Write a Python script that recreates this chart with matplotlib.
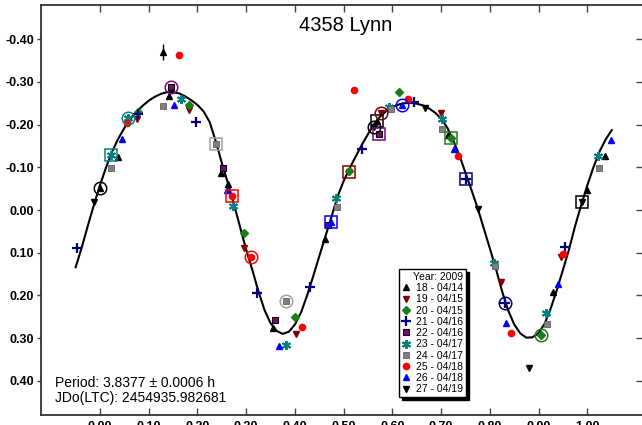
import matplotlib.pyplot as plt
from matplotlib.lines import Line2D

plt.rcParams['font.family'] = ['Liberation Sans', 'DejaVu Sans']

# Fourier fit curve, sampled every 0.0125 in phase
curve_phase = [-0.0500, -0.0375, -0.0250, -0.0125, 0.0000, 0.0125, 0.0250, 0.0375,
               0.0500, 0.0625, 0.0750, 0.0875, 0.1000, 0.1125, 0.1250, 0.1375,
               0.1500, 0.1625, 0.1750, 0.1875, 0.2000, 0.2125, 0.2250, 0.2375,
               0.2500, 0.2625, 0.2750, 0.2875, 0.3000, 0.3125, 0.3250, 0.3375,
               0.3500, 0.3625, 0.3750, 0.3875, 0.4000, 0.4125, 0.4250, 0.4375,
               0.4500, 0.4625, 0.4750, 0.4875, 0.5000, 0.5125, 0.5250, 0.5375,
               0.5500, 0.5625, 0.5750, 0.5875, 0.6000, 0.6125, 0.6250, 0.6375,
               0.6500, 0.6625, 0.6750, 0.6875, 0.7000, 0.7125, 0.7250, 0.7375,
               0.7500, 0.7625, 0.7750, 0.7875, 0.8000, 0.8125, 0.8250, 0.8375,
               0.8500, 0.8625, 0.8750, 0.8875, 0.9000, 0.9125, 0.9250, 0.9375,
               0.9500, 0.9625, 0.9750, 0.9875, 1.0000, 1.0125, 1.0250, 1.0375,
               1.0500]
curve_mag = [0.134, 0.088, 0.037, -0.012, -0.058, -0.100, -0.137, -0.167,
             -0.192, -0.213, -0.230, -0.244, -0.256, -0.265, -0.272, -0.276,
             -0.276, -0.273, -0.266, -0.257, -0.246, -0.231, -0.206, -0.161,
             -0.110, -0.063, -0.013, 0.040, 0.093, 0.140, 0.190, 0.234,
             0.265, 0.283, 0.290, 0.285, 0.268, 0.240, 0.200, 0.155,
             0.108, 0.062, 0.016, -0.032, -0.068, -0.098, -0.126, -0.153,
             -0.178, -0.201, -0.219, -0.232, -0.241, -0.247, -0.250, -0.251,
             -0.249, -0.245, -0.238, -0.228, -0.214, -0.193, -0.163, -0.128,
             -0.087, -0.046, -0.004, 0.043, 0.090, 0.138, 0.190, 0.235,
             0.268, 0.289, 0.299, 0.298, 0.288, 0.266, 0.230, 0.187,
             0.140, 0.092, 0.037, -0.012, -0.058, -0.100, -0.137, -0.165,
             -0.187]

# observing sessions
session_labels = ['18 - 04/14', '19 - 04/15', '20 - 04/15', '21 - 04/16', '22 - 04/16',
                  '23 - 04/17', '24 - 04/17', '25 - 04/18', '26 - 04/18', '27 - 04/19']

phase_18 = [0.130, 0.142, 0.036, -0.001, 0.248, 0.263, 0.356, 0.462, 0.569, 0.715, 0.930, 1.000, 1.036]
mag_18 = [-0.370, -0.268, -0.125, -0.051, -0.086, -0.062, 0.277, 0.069, -0.208, -0.175, 0.191, -0.047, -0.127]
phase_19 = [0.075, 0.183, 0.295, 0.402, 0.510, 0.576, 0.700, 0.822, 0.946]
mag_19 = [-0.212, -0.234, 0.090, 0.291, -0.088, -0.228, -0.226, 0.168, 0.109]
phase_20 = [0.077, 0.183, 0.295, 0.400, 0.510, 0.614, 0.720, 0.904]
mag_20 = [-0.230, -0.247, 0.053, 0.250, -0.092, -0.277, -0.169, 0.292]
phase_21 = [-0.047, 0.077, 0.198, 0.323, 0.430, 0.537, 0.645, 0.750, 0.831, 0.954]
mag_21 = [0.090, -0.224, -0.207, 0.195, 0.181, -0.144, -0.253, -0.072, 0.218, 0.087]
phase_22 = [0.145, 0.253, 0.360, 0.467, 0.573]
mag_22 = [-0.288, -0.098, 0.257, 0.035, -0.179]
phase_23 = [0.022, 0.058, 0.166, 0.272, 0.382, 0.485, 0.594, 0.701, 0.808, 0.915, 1.021]
mag_23 = [-0.129, -0.215, -0.259, -0.010, 0.317, -0.028, -0.242, -0.214, 0.123, 0.242, -0.127]
phase_24 = [0.022, 0.130, 0.239, 0.382, 0.487, 0.597, 0.702, 0.811, 0.918, 1.023]
mag_24 = [-0.098, -0.243, -0.154, 0.214, -0.006, -0.236, -0.189, 0.131, 0.267, -0.098]
phase_25 = [0.055, 0.163, 0.270, 0.309, 0.415, 0.521, 0.631, 0.735, 0.843, 0.951]
mag_25 = [-0.204, -0.363, -0.033, 0.111, 0.274, -0.281, -0.259, -0.126, 0.287, 0.104]
phase_26 = [0.046, 0.152, 0.260, 0.367, 0.473, 0.619, 0.726, 0.833, 0.940, 1.048]
mag_26 = [-0.166, -0.246, -0.048, 0.318, 0.029, -0.247, -0.142, 0.264, 0.173, -0.165]
phase_27 = [-0.012, 0.563, 0.667, 0.776, 0.881, 0.990]
mag_27 = [-0.019, -0.195, -0.238, -0.002, 0.370, -0.019]

# one deviant point of session 18 carries a visible error bar
err_phase = [0.130]
err_mag = [-0.370]
err_size = [0.018]

# first (circle) and last (square) point of each session, session order
first_phase = [-0.001, 0.576, 0.904, 0.831, 0.145, 0.058, 0.382, 0.309, 0.619, 0.563]
first_mag = [-0.051, -0.228, 0.292, 0.218, -0.288, -0.215, 0.214, 0.111, -0.247, -0.195]
last_phase = [0.569, 0.510, 0.720, 0.750, 0.573, 0.022, 0.239, 0.270, 0.473, 0.990]
last_mag = [-0.208, -0.090, -0.169, -0.072, -0.179, -0.129, -0.154, -0.033, 0.029, -0.019]

phases = [phase_18, phase_19, phase_20, phase_21, phase_22,
          phase_23, phase_24, phase_25, phase_26, phase_27]
mags = [mag_18, mag_19, mag_20, mag_21, mag_22,
        mag_23, mag_24, mag_25, mag_26, mag_27]

styles = [
    dict(marker='^', color='black', ms=5, mec='black'),
    dict(marker='v', color='#800000', ms=5, mec='#800000'),
    dict(marker='D', color='#1a7f1a', ms=3.6, mec='#1a7f1a'),
    dict(marker='+', color='#000080', ms=6.5, mew=1.6, mec='#000080'),
    dict(marker='s', color='#800080', ms=5, mec='black', mew=0.8),
    dict(marker=(6, 2, 0), color='#008080', ms=6.5, mew=1.4, mec='#008080'),
    dict(marker='s', color='#808080', ms=5, mec='#606060', mew=0.6),
    dict(marker='o', color='#ff0000', ms=4.5, mec='#ff0000'),
    dict(marker='^', color='#0000ff', ms=5, mec='#0000ff'),
    dict(marker='v', color='black', ms=5, mec='black'),
]
ring_colors = ['black', '#800000', '#1a7f1a', '#000080', '#800080',
               '#008080', '#a0a0a0', '#ff0000', '#0000ff', 'black']

fig = plt.figure(figsize=(6.42, 4.25), dpi=100)
ax = fig.add_axes([0.0639, 0.0235, 0.9375, 0.9647])

ax.plot(curve_phase, curve_mag, color='black', lw=1.5, zorder=2)

handles = []
for ph, mg, st, lab in zip(phases, mags, styles, session_labels):
    ax.plot(ph, mg, ls='none', zorder=3, **st)
    handles.append(Line2D([], [], ls='none', **st))

ax.errorbar(err_phase, err_mag, yerr=err_size, fmt='none', ecolor='black',
            elinewidth=1, capsize=0, zorder=3)

for i in range(len(session_labels)):
    ax.plot(first_phase[i], first_mag[i], marker='o', ms=9, mfc='none',
            mec=ring_colors[i], mew=1.1, ls='none', zorder=4)
    ax.plot(last_phase[i], last_mag[i], marker='s', ms=9, mfc='none',
            mec=ring_colors[i], mew=1.1, ls='none', zorder=4)

ax.set_xlim(-0.121, 1.114)
ax.set_ylim(0.48, -0.48)

xt = [0.0, 0.1, 0.2, 0.3, 0.4, 0.5, 0.6, 0.7, 0.8, 0.9, 1.0]
yt = [-0.4, -0.3, -0.2, -0.1, 0.0, 0.1, 0.2, 0.3, 0.4]
ax.set_xticks(xt)
ax.set_xticklabels([f'{v:.2f}' for v in xt])
ax.set_yticks(yt)
ax.set_yticklabels([f'{v:.2f}' for v in yt])

ax.tick_params(axis='x', which='both', direction='in', top=True, length=5,
               width=1, color='#444444', pad=4)
ax.tick_params(axis='y', which='both', direction='out', length=3, width=1,
               color='#444444', pad=2)
ax.tick_params(axis='y', right=True)
for t in ax.yaxis.get_ticklines()[1::2]:
    t.set_marker(0)
    t.set_markersize(5)
for lbl in ax.get_xticklabels() + ax.get_yticklabels():
    lbl.set_fontweight('bold')
    lbl.set_fontsize(9)

for s in ax.spines.values():
    s.set_linewidth(1.3)
    s.set_color('#333333')

ax.text(0.506, 0.951, '4358 Lynn', transform=ax.transAxes, ha='center',
        va='center', fontsize=14.5)
ax.text(0.023, 0.079, 'Period: 3.8377 \u00b1 0.0006 h', transform=ax.transAxes,
        ha='left', va='center', fontsize=10)
ax.text(0.023, 0.041, 'JDo(LTC): 2454935.982681', transform=ax.transAxes,
        ha='left', va='center', fontsize=10)

leg = ax.legend(handles, session_labels, title='Year: 2009', loc='lower left',
                bbox_to_anchor=(0.595, 0.044), borderaxespad=0, fontsize=7.5,
                title_fontsize=7.5, handlelength=0.9, handletextpad=0.5,
                borderpad=0.25, labelspacing=0.12, alignment='right',
                fancybox=False, framealpha=1, edgecolor='black',
                shadow={'color': 'black', 'alpha': 1.0})
leg.get_frame().set_linewidth(1.0)

fig.savefig('out.png', dpi=100)
